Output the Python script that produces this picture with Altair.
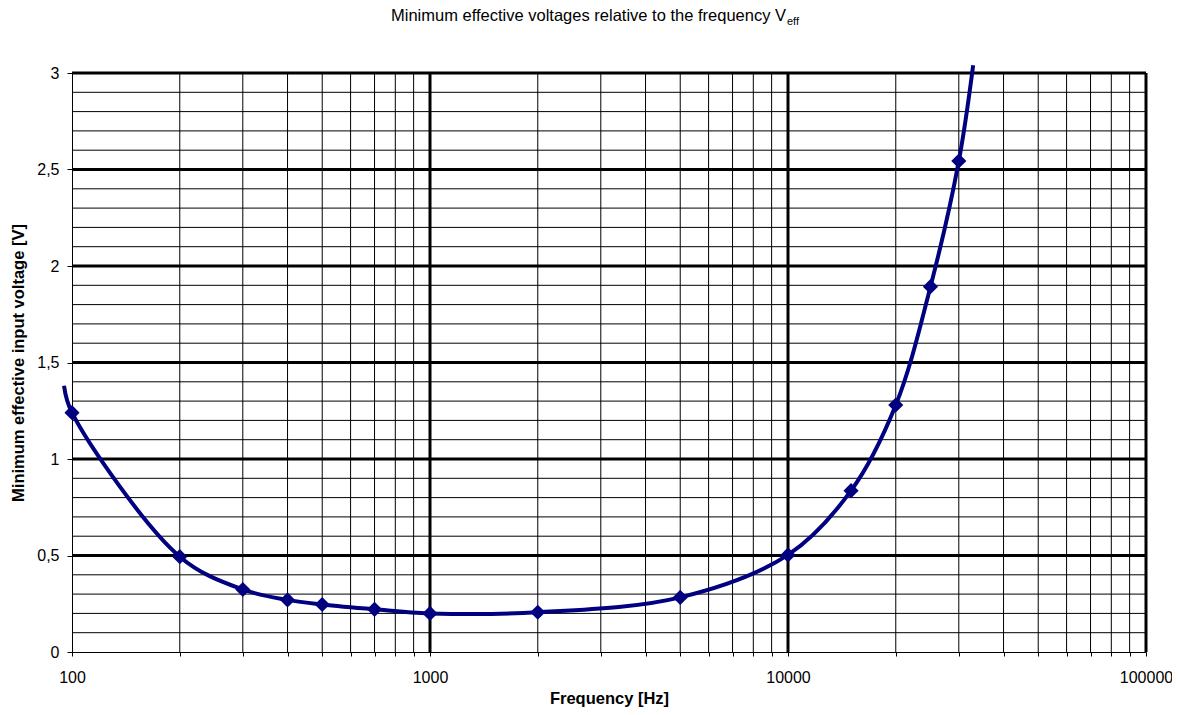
import altair as alt
import pandas as pd

# ---- data ----
freq = [100, 200, 300, 400, 500, 700, 1000, 2000, 5000, 10000, 15000, 20000, 25000, 30000]
volt = [1.24, 0.494, 0.324, 0.27, 0.246, 0.221, 0.2, 0.206, 0.283, 0.503, 0.836, 1.28, 1.893, 2.544]
# smoothed curve runs slightly past the first and last markers
curve_freq = [95] + freq + [32900]
curve_volt = [1.38] + volt + [3.04]

x_major = [100, 1000, 10000, 100000]
x_minor = [m * d for d in [100, 1000, 10000] for m in range(2, 10)]
y_major = [0, 0.5, 1, 1.5, 2, 2.5, 3]
y_minor = [round(i / 10, 1) for i in range(1, 30) if i % 5 != 0]

title_main = "Minimum effective voltages relative to the frequency V"
title_sub = "eff"
x_title = "Frequency [Hz]"
y_title = "Minimum effective input voltage [V]"

FONT = "Liberation Sans"
NAVY = "#000080"
W, H = 1074, 579

xs = alt.Scale(type="log", domain=[100, 100000], nice=False)
ys = alt.Scale(domain=[0, 3], nice=False, zero=False)

x_axis = alt.Axis(
    values=sorted(x_major + x_minor), grid=False, tickSize=4, tickColor="black",
    domainColor="black", domainWidth=1, labelFont=FONT, labelFontSize=16, labelColor="black",
    labelExpr="(datum.value == 100 || datum.value == 1000 || datum.value == 10000 || datum.value == 100000) ? format(datum.value, 'd') : ''",
    labelOverlap=False, labelFlush=False, labelBaseline="alphabetic", labelPadding=26,
    title=x_title, titleFont=FONT, titleFontSize=16.5, titleFontWeight="bold", titleColor="black",
    titleX=W / 2, titleY=51.5, titleBaseline="alphabetic", titleAlign="center",
)
y_axis = alt.Axis(
    values=y_major, grid=False, tickSize=5, tickColor="black",
    domainColor="black", domainWidth=1, labelFont=FONT, labelFontSize=16, labelColor="black",
    labelExpr="replace(format(datum.value, '~g'), '.', ',')", labelPadding=8,
    labelOverlap=False, labelFlush=False,
    title=y_title, titleFont=FONT, titleFontSize=16.5, titleFontWeight="bold", titleColor="black",
    titleX=-54, titleY=H / 2, titleAngle=270, titleAlign="center", titleBaseline="middle",
)

vminor = alt.Chart(pd.DataFrame({"f": x_minor})).mark_rule(color="black", strokeWidth=1).encode(
    x=alt.X("f:Q", scale=xs, axis=x_axis))
hminor = alt.Chart(pd.DataFrame({"v": y_minor})).mark_rule(color="black", strokeWidth=1).encode(
    y=alt.Y("v:Q", scale=ys, axis=y_axis))
vmajor = alt.Chart(pd.DataFrame({"f": x_major[1:]})).mark_rule(color="black", strokeWidth=3).encode(
    x=alt.X("f:Q", scale=xs))
hmajor = alt.Chart(pd.DataFrame({"v": y_major[1:]})).mark_rule(color="black", strokeWidth=3).encode(
    y=alt.Y("v:Q", scale=ys))

curve = alt.Chart(pd.DataFrame({"f": curve_freq, "v": curve_volt})).mark_line(
    color=NAVY, strokeWidth=4, interpolate="catmull-rom", clip=False).encode(
    x=alt.X("f:Q", scale=xs), y=alt.Y("v:Q", scale=ys))
pts = alt.Chart(pd.DataFrame({"f": freq, "v": volt})).mark_point(
    shape="diamond", filled=True, color=NAVY, opacity=1, size=230).encode(
    x=alt.X("f:Q", scale=xs), y=alt.Y("v:Q", scale=ys))

t1 = alt.Chart(pd.DataFrame({"t": [title_main]})).mark_text(
    font=FONT, fontSize=16.5, align="right", baseline="alphabetic", color="black").encode(
    text="t:N", x=alt.value(714), y=alt.value(-52))
t2 = alt.Chart(pd.DataFrame({"t": [title_sub]})).mark_text(
    font=FONT, fontSize=11, align="left", baseline="alphabetic", color="black").encode(
    text="t:N", x=alt.value(715), y=alt.value(-48.5))

chart = alt.layer(vminor, hminor, vmajor, hmajor, curve, pts, t1, t2).properties(
    width=W, height=H,
    autosize=alt.AutoSizeParams(type="none"),
    padding={"left": 64, "top": 65, "right": 26, "bottom": 55},
    background="white",
).configure_view(strokeWidth=0)

chart.save("out.html", embed_options={"renderer": "svg", "actions": False})
